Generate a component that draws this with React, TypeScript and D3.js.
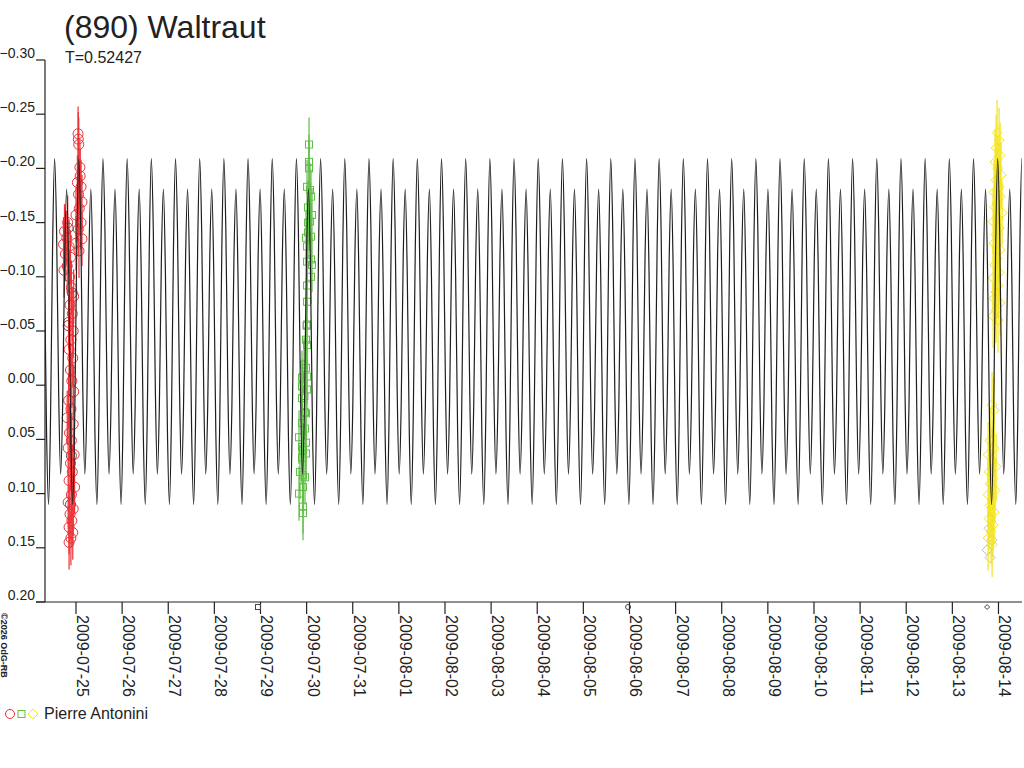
import React from 'react';
import * as d3 from 'd3';

const TITLE = '(890) Waltraut';
const PERIOD_LABEL = 'T=0.52427';
const OBSERVER = 'Pierre Antonini';
const COPYRIGHT = '©2026 OdG-RB';

const PERIOD = 0.52427; // days
// Day offsets relative to 2009-07-25 00:00 UT
const X_DOMAIN = [-0.672, 20.51];
const Y_DOMAIN = [-0.3, 0.2];
const Y_TICKS = [-0.3, -0.25, -0.2, -0.15, -0.1, -0.05, 0, 0.05, 0.1, 0.15, 0.2];
const X_TICK_LABELS = [
  '2009-07-25', '2009-07-26', '2009-07-27', '2009-07-28', '2009-07-29', '2009-07-30',
  '2009-07-31', '2009-08-01', '2009-08-02', '2009-08-03', '2009-08-04', '2009-08-05',
  '2009-08-06', '2009-08-07', '2009-08-08', '2009-08-09', '2009-08-10', '2009-08-11',
  '2009-08-12', '2009-08-13', '2009-08-14',
];

// epoch of the primary maximum (day offset) and lightcurve shape over one period
const EPOCH = 7.4;
const LC_SHAPE = [-0.209, -0.141, 0.004, 0.082, 0.018, -0.117, -0.181, -0.103, 0.042, 0.110, 0.028, -0.127];

// sessions: [day offset, magnitude]
const RED_POINTS: [number, number][] = [
  [0.045, -0.232], [0.05, -0.227], [0.06, -0.222], [0.085, -0.201], [0.09, -0.193], [0.03, -0.187],
  [0.11, -0.183], [0.055, -0.176], [0.13, -0.169], [0.07, -0.163], [0.0, -0.157], [0.11, -0.15],
  [0.05, -0.144], [0.13, -0.135], [0.0, -0.131], [0.065, -0.124],
  [-0.18, -0.15], [-0.25, -0.142], [-0.2, -0.136], [-0.27, -0.13], [-0.15, -0.128], [-0.23, -0.121],
  [-0.12, -0.118], [-0.19, -0.11], [-0.26, -0.106], [-0.14, -0.1],
  [-0.1, -0.09], [-0.05, -0.082], [-0.13, -0.074], [-0.08, -0.066], [-0.16, -0.058], [-0.06, -0.05],
  [-0.11, -0.042], [-0.15, -0.033], [-0.07, -0.025], [-0.12, -0.014], [-0.09, -0.004], [-0.05, 0.006],
  [-0.16, 0.014], [-0.11, 0.022], [-0.19, 0.03], [-0.06, 0.036], [-0.14, 0.044], [-0.1, 0.051],
  [-0.17, 0.058], [-0.04, 0.064], [-0.12, 0.072], [-0.08, 0.08], [-0.15, 0.088], [-0.03, 0.094],
  [-0.1, 0.101], [-0.17, 0.108], [-0.06, 0.114], [-0.13, 0.119], [-0.09, 0.125], [-0.15, 0.131],
  [-0.07, 0.136], [-0.11, 0.141], [-0.15, 0.145],
];
const RED_GREY: [number, number][] = [
  [-0.17, -0.145], [-0.08, -0.085], [-0.17, -0.055], [-0.1, 0.065], [-0.12, 0.11],
];

const GREEN_POINTS: [number, number][] = [
  [5.052, -0.222], [5.052, -0.206], [5.052, -0.2], [5.009, -0.183], [5.074, -0.18], [5.095, -0.174],
  [5.03, -0.164], [5.117, -0.157], [5.074, -0.151], [5.03, -0.15], [5.03, -0.141], [4.987, -0.136],
  [5.095, -0.137], [5.009, -0.128], [5.095, -0.116], [5.117, -0.111], [5.009, -0.114], [5.095, -0.1],
  [5.009, -0.092], [5.009, -0.077], [5.009, -0.056], [4.987, -0.042], [5.009, -0.037], [4.944, -0.019],
  [4.987, -0.016], [4.9, -0.007], [5.009, -0.008], [4.9, 0.001], [5.009, 0.004], [4.9, 0.012],
  [4.965, 0.025], [4.987, 0.026], [4.9, 0.035], [4.965, 0.04], [4.9, 0.057], [4.987, 0.053],
  [4.922, 0.06], [4.9, 0.067], [4.987, 0.063], [4.922, 0.083], [4.965, 0.085], [4.922, 0.094],
  [4.922, 0.112], [4.922, 0.118], [4.835, 0.048], [4.857, 0.08], [4.835, 0.1],
];
const GREEN_GREY: [number, number][] = [[5.0, -0.055], [4.95, 0.01]];

const YELLOW_POINTS: [number, number][] = [
  [19.97, -0.233], [20.013, -0.226], [19.948, -0.219], [20.035, -0.212], [19.926, -0.206], [19.991, -0.2],
  [20.056, -0.194], [19.948, -0.189], [20.013, -0.183], [19.905, -0.178], [20.035, -0.174], [19.97, -0.168],
  [19.926, -0.164], [20.078, -0.159], [19.991, -0.154], [19.883, -0.151], [20.013, -0.145], [19.948, -0.139],
  [19.905, -0.131], [20.035, -0.125], [19.97, -0.117], [19.926, -0.111], [20.013, -0.104], [19.883, -0.099],
  [19.991, -0.092], [19.948, -0.086], [19.905, -0.08], [20.035, -0.076], [19.948, -0.069], [19.883, -0.064],
  [19.991, -0.06],
  [19.861, 0.018], [19.905, 0.023],
  [19.818, 0.051], [19.905, 0.058], [19.775, 0.064], [19.861, 0.069], [19.948, 0.075], [19.796, 0.08],
  [19.883, 0.086], [19.818, 0.091], [19.926, 0.097], [19.775, 0.101], [19.861, 0.106], [19.818, 0.111],
  [19.905, 0.117], [19.796, 0.123], [19.883, 0.129], [19.84, 0.135], [19.775, 0.141], [19.861, 0.147],
];
const YELLOW_GREY: [number, number][] = [[19.796, 0.132], [19.861, 0.143], [19.753, 0.152], [19.818, 0.159]];

const ERR_RED = 0.025;
const ERR_GREEN = 0.025;
const ERR_YELLOW = 0.03;

// small symbols under the axis
const AXIS_MARKS: { t: number; shape: 'square' | 'circle' | 'diamond' }[] = [
  { t: 3.946, shape: 'square' },
  { t: 11.969, shape: 'circle' },
  { t: 19.753, shape: 'diamond' },
];

const RED = '#ee3035';
const GREEN = '#5fbf45';
const YELLOW = '#f2e41a';
const FONT = '"Liberation Sans", Arial, sans-serif';

const BASE = Date.UTC(2009, 6, 25);
const dayOffset = (s: string) => {
  const [y, m, d] = s.split('-').map(Number);
  return (Date.UTC(y, m - 1, d) - BASE) / 86400000;
};

type Shape = 'circle' | 'square' | 'diamond';

function Marker({ x, y, shape, color, size }: { x: number; y: number; shape: Shape; color: string; size: number }) {
  if (shape === 'circle') return <circle cx={x} cy={y} r={size} fill="none" stroke={color} strokeWidth={1} />;
  if (shape === 'square')
    return <rect x={x - size} y={y - size} width={size * 2} height={size * 2} fill="none" stroke={color} strokeWidth={1} />;
  return (
    <path
      d={`M${x},${y - size}L${x + size},${y}L${x},${y + size}L${x - size},${y}Z`}
      fill="none"
      stroke={color}
      strokeWidth={1}
    />
  );
}

export default function App() {
  const left = 45;
  const right = 1022;
  const top = 60;
  const bottom = 602;
  const x = d3.scaleLinear().domain(X_DOMAIN).range([left, right]);
  const y = d3.scaleLinear().domain(Y_DOMAIN).range([top, bottom]);

  // model lightcurve points, repeated over the period
  const n0 = Math.floor((X_DOMAIN[0] - EPOCH) / PERIOD) - 1;
  const n1 = Math.ceil((X_DOMAIN[1] - EPOCH) / PERIOD) + 1;
  const lc: [number, number][] = [];
  for (let n = n0; n <= n1; n++) {
    LC_SHAPE.forEach((m, k) => {
      lc.push([EPOCH + (n + k / LC_SHAPE.length) * PERIOD, m]);
    });
  }
  const line = d3
    .line<[number, number]>()
    .x((d) => x(d[0]))
    .y((d) => y(d[1]))
    .curve(d3.curveMonotoneX);

  const sessions: { pts: [number, number][]; grey: [number, number][]; greyColor: string; color: string; shape: Shape; size: number; err: number }[] = [
    { pts: RED_POINTS, grey: RED_GREY, greyColor: '#555', color: RED, shape: 'circle', size: 5, err: ERR_RED },
    { pts: GREEN_POINTS, grey: GREEN_GREY, greyColor: '#777', color: GREEN, shape: 'square', size: 3.5, err: ERR_GREEN },
    { pts: YELLOW_POINTS, grey: YELLOW_GREY, greyColor: '#bbb', color: YELLOW, shape: 'diamond', size: 5, err: ERR_YELLOW },
  ];

  return (
    <svg
      width={1024}
      height={768}
      style={{ position: 'absolute', left: 0, top: 0, background: '#fff' }}
      fontFamily={FONT}
    >
      <defs>
        <clipPath id="plot">
          <rect x={left} y={0} width={right - left} height={bottom} />
        </clipPath>
      </defs>
      <rect width={1024} height={768} fill="#fff" />

      <text x={64} y={38} fontSize={32} fill="#222">{TITLE}</text>
      <text x={65} y={63} fontSize={16} fill="#222">{PERIOD_LABEL}</text>

      {/* data */}
      <g clipPath="url(#plot)">
        {sessions.map((s, i) => (
          <g key={i}>
            {s.grey.map((p, j) => (
              <Marker key={'g' + j} x={x(p[0])} y={y(p[1])} shape={s.shape} color={s.greyColor} size={s.size} />
            ))}
            {s.pts.map((p, j) => (
              <line
                key={'e' + j}
                x1={x(p[0])}
                x2={x(p[0])}
                y1={y(p[1] - s.err)}
                y2={y(p[1] + s.err)}
                stroke={s.color}
                strokeWidth={1.2}
              />
            ))}
            {s.pts.map((p, j) => (
              <Marker key={'m' + j} x={x(p[0])} y={y(p[1])} shape={s.shape} color={s.color} size={s.size} />
            ))}
          </g>
        ))}
        <path d={line(lc) || ''} fill="none" stroke="#1e1e1e" strokeWidth={1.2} />
      </g>

      {/* y axis */}
      <line x1={left} x2={left} y1={top} y2={bottom} stroke="#222" strokeWidth={1.2} />
      {Y_TICKS.map((v) => (
        <g key={v}>
          <line x1={36} x2={left} y1={y(v)} y2={y(v)} stroke="#222" strokeWidth={1.2} />
          <text x={35} y={y(v) - 2} fontSize={14} textAnchor="end" fill="#222">
            {d3.format('.2f')(v)}
          </text>
        </g>
      ))}

      {/* x axis */}
      <line x1={36} x2={right} y1={bottom} y2={bottom} stroke="#222" strokeWidth={1.2} />
      {X_TICK_LABELS.map((lab) => {
        const xx = x(dayOffset(lab));
        return (
          <g key={lab}>
            <line x1={xx} x2={xx} y1={bottom} y2={bottom + 12} stroke="#222" strokeWidth={1.2} />
            <text transform={`translate(${xx + 1},${bottom + 13}) rotate(90)`} fontSize={16} fill="#222">
              {lab}
            </text>
          </g>
        );
      })}
      {AXIS_MARKS.map((m, i) => (
        <Marker key={i} x={x(m.t)} y={bottom + 5} shape={m.shape} color="#444" size={2.5} />
      ))}

      <text transform={`translate(1,613) rotate(90)`} fontSize={9} fontWeight="bold" fill="#222">
        {COPYRIGHT}
      </text>

      {/* legend */}
      <Marker x={10} y={714} shape="circle" color={RED} size={4.5} />
      <Marker x={21.5} y={714} shape="square" color={GREEN} size={3.5} />
      <Marker x={33} y={714} shape="diamond" color={YELLOW} size={5} />
      <text x={44} y={719} fontSize={16} fill="#222">{OBSERVER}</text>
    </svg>
  );
}
